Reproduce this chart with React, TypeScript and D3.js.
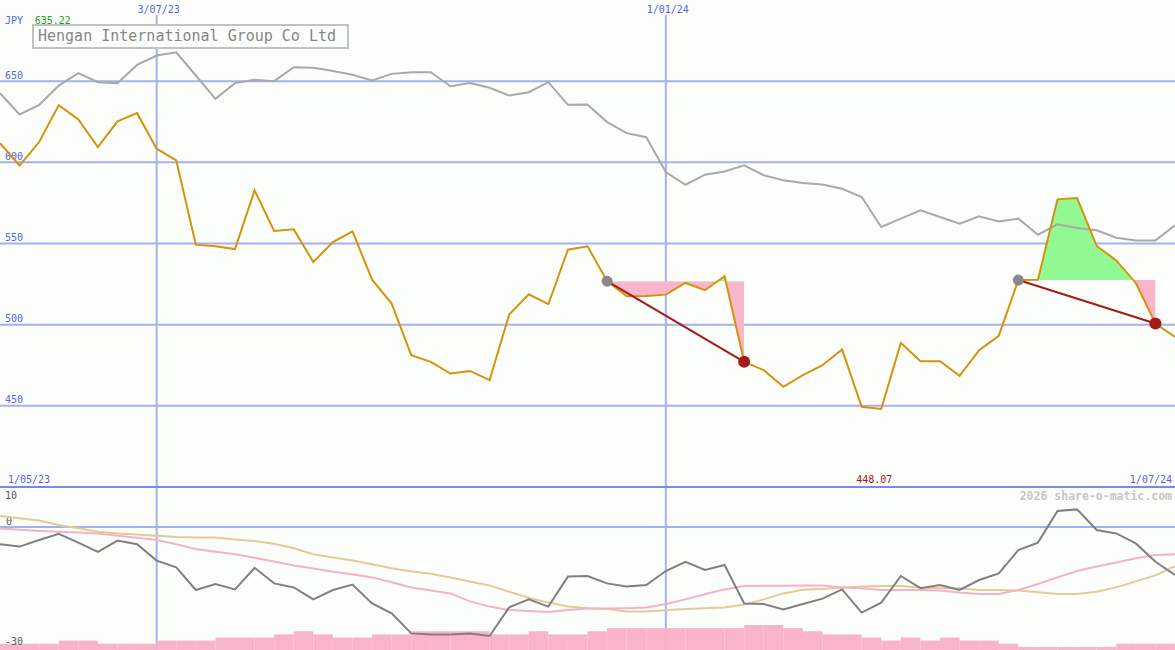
import React from "react";
import * as d3 from "d3";

// ---- data (weekly, starting 8 May 2023) ----
const startDate = new Date(2023, 4, 8);
const endDate = new Date(2024, 6, 1);

const price = [
  611.8, 598.1, 612.5, 635.2, 626.4, 609.4, 625.2, 630.3, 608.4, 601.2,
  549.3, 548.3, 546.6, 582.7, 557.7, 558.7, 538.6, 550.9, 557.5, 527.7,
  513.0, 481.2, 477.1, 469.9, 471.5, 465.8, 506.2, 518.7, 512.6, 546.2,
  548.3, 526.8, 517.5, 517.7, 518.5, 525.7, 521.2, 529.8, 477.1, 472.0,
  461.7, 468.9, 475.0, 484.7, 449.4, 448.1, 488.8, 477.5, 477.5, 468.5,
  484.3, 493.1, 527.5, 527.7, 577.2, 578.0, 548.5, 539.6, 525.7, 500.7,
  492.5,
];

const reference = [
  642.6, 629.5, 635.4, 647.3, 654.9, 649.4, 648.8, 660.0, 665.8, 667.8,
  653.5, 639.1, 648.8, 650.8, 650.0, 658.6, 658.2, 656.2, 653.9, 650.4,
  654.5, 655.5, 655.5, 646.9, 648.8, 645.9, 641.2, 643.2, 649.4, 635.4,
  635.6, 624.8, 618.0, 615.5, 594.0, 586.2, 592.4, 594.4, 598.1, 592.0,
  588.9, 587.2, 586.4, 583.7, 578.6, 560.2, 565.3, 570.4, 566.3, 562.2,
  566.7, 563.6, 565.3, 555.4, 561.8, 559.5, 558.1, 553.6, 551.9, 551.9,
  561.2,
];

const oscillator = [
  -4.3, -4.9, -3.25, -1.7, -3.9, -6.2, -3.4, -4.3, -8.4, -10.1,
  -15.75, -14.25, -15.6, -10.2, -14.1, -15.1, -18.1, -15.75, -14.4, -19.1,
  -21.6, -26.6, -26.9, -26.9, -26.6, -27.25, -20.1, -18.1, -19.9, -12.4,
  -12.25, -14.1, -14.9, -14.5, -11.0, -8.7, -10.75, -9.5, -19.1, -19.25,
  -20.6, -19.25, -17.9, -15.6, -21.4, -18.9, -12.25, -15.3, -14.5, -15.75,
  -13.25, -11.6, -5.75, -3.9, 4.0, 4.4, -0.75, -1.6, -4.1, -8.7,
  -12.0,
];

const maFast = [
  -0.4, -0.7, -1.0, -1.2, -1.4, -1.6, -2.2, -2.7, -3.25, -4.3,
  -5.5, -6.2, -6.8, -7.7, -8.6, -9.6, -10.4, -11.2, -11.8, -12.6,
  -13.8, -15.1, -15.9, -16.6, -18.6, -19.9, -20.75, -21.0, -21.25, -20.75,
  -20.4, -20.4, -20.3, -20.1, -19.25, -18.1, -16.8, -15.6, -14.75, -14.7,
  -14.7, -14.6, -14.6, -15.1, -15.3, -15.75, -15.75, -15.75, -15.9, -16.4,
  -16.75, -16.75, -15.75, -14.25, -12.6, -11.0, -9.9, -8.9, -7.8, -7.0,
  -6.8,
];

const maSlow = [
  2.75, 2.2, 1.6, 0.5, -0.3, -1.2, -1.6, -1.9, -2.2, -2.5,
  -2.6, -2.6, -3.1, -3.5, -4.2, -5.3, -6.8, -7.6, -8.4, -9.3,
  -10.3, -11.1, -11.7, -12.6, -13.6, -14.6, -16.2, -17.7, -18.9, -19.9,
  -20.3, -20.5, -21.1, -21.1, -20.8, -20.5, -20.3, -20.1, -19.4, -18.1,
  -16.6, -15.7, -15.5, -15.1, -14.9, -14.75, -14.75, -15.1, -15.3, -15.3,
  -15.75, -15.75, -15.9, -16.3, -16.75, -16.75, -16.2, -15.1, -13.6, -12.1,
  -9.8,
];

const volume = [
  2, 2, 2, 3, 3, 2, 2, 2, 3, 3,
  3, 4, 4, 4, 5, 6, 5, 4, 4, 5,
  5, 6, 6, 6, 6, 5, 5, 6, 5, 5,
  6, 7, 7, 7, 7, 7, 7, 7, 8, 8,
  7, 6, 5, 5, 4, 3, 4, 3, 4, 3,
  3, 2, 1, 1, 1, 1, 1, 2, 2, 2,
];

const signalStart = [31, 52];
const signalEnd = [38, 59];

const priceTicks = [650, 600, 550, 500, 450];
const oscTicks = [10, 0, -30];
const dateLines = [new Date(2023, 6, 3), new Date(2024, 0, 1)];
const title = "Hengan International Group Co Ltd";
const currency = "JPY";
const highLabel = "635.22";
const lowLabel = "448.07";
const leftDateLabel = "1/05/23";
const rightDateLabel = "1/07/24";
const watermark = "2026 share-o-matic.com";

// ---- layout ----
const W = 1175;
const H = 650;
const mainBottom = 487;
const FONT = "'DejaVu Sans Mono', monospace";
const BLUE = "#5562ee";
const GRID = "#a3b1f2";

export default function App() {
  const dates = price.map((_, i) => d3.timeDay.offset(startDate, 7 * i));
  const x = d3.scaleTime().domain([startDate, endDate]).range([0, W]);
  const y = d3.scaleLinear().domain([400, 700]).range([mainBottom, 0]);
  const yo = d3.scaleLinear().domain([-30, 10]).range([647, 487]);
  const yv = d3.scaleLinear().domain([0, 8]).range([H, 625]);

  const line = (vals: number[], sc: d3.ScaleLinear<number, number>) =>
    d3
      .line<number>()
      .x((_, i) => x(dates[i]))
      .y((v) => sc(v))(vals) || "";

  const fmt = d3.timeFormat("%-d/%m/%y");
  const hiIdx = d3.maxIndex(price);
  const loIdx = d3.minIndex(price);

  return (
    <div style={{ position: "absolute", left: 0, top: 0 }}>
      <svg width={W} height={H} style={{ display: "block", background: "#fcfefc" }}>
        <defs>
          {signalStart.map((s, k) => {
            const e = signalEnd[k];
            const yl = y(price[s]);
            return (
              <React.Fragment key={k}>
                <clipPath id={`up${k}`}>
                  <rect x={x(dates[s])} y={0} width={x(dates[e]) - x(dates[s])} height={yl} />
                </clipPath>
                <clipPath id={`dn${k}`}>
                  <rect x={x(dates[s])} y={yl} width={x(dates[e]) - x(dates[s])} height={mainBottom - yl} />
                </clipPath>
              </React.Fragment>
            );
          })}
        </defs>

        {/* horizontal grid */}
        {priceTicks.map((t) => (
          <line key={t} x1={0} x2={W} y1={y(t)} y2={y(t)} stroke={GRID} strokeWidth={2} />
        ))}
        <line x1={0} x2={W} y1={yo(0)} y2={yo(0)} stroke={GRID} strokeWidth={2} />

        {/* vertical date lines */}
        {dateLines.map((d, i) => (
          <g key={i}>
            <line x1={x(d)} x2={x(d)} y1={15} y2={H} stroke={GRID} strokeWidth={2} />
            <text x={x(d) + 2} y={13} fontFamily={FONT} fontSize={10} fill={BLUE} textAnchor="middle">
              {fmt(d)}
            </text>
          </g>
        ))}

        {/* separator */}
        <line x1={0} x2={W} y1={mainBottom} y2={mainBottom} stroke="#7a88ee" strokeWidth={2} />

        {/* price tick labels */}
        {priceTicks.map((t) => (
          <text key={t} x={5} y={y(t) - 2.5} fontFamily={FONT} fontSize={10} fill={BLUE}>
            {t}
          </text>
        ))}

        {/* signal fills */}
        {signalStart.map((s, k) => {
          const e = signalEnd[k];
          const idx = d3.range(s, e + 1);
          const area =
            d3
              .area<number>()
              .x((i) => x(dates[i]))
              .y0(y(price[s]))
              .y1((i) => y(price[i]))(idx) || "";
          return (
            <g key={k}>
              <path d={area} fill="#f9b5c9" clipPath={`url(#dn${k})`} />
              <path d={area} fill="#93f993" clipPath={`url(#up${k})`} />
            </g>
          );
        })}

        {/* reference & price lines */}
        <path d={line(reference, y)} fill="none" stroke="#a9a9a9" strokeWidth={2} />
        <path d={line(price, y)} fill="none" stroke="#d7920b" strokeWidth={2} />

        {/* signal lines & markers */}
        {signalStart.map((s, k) => {
          const e = signalEnd[k];
          return (
            <g key={k}>
              <line
                x1={x(dates[s])}
                y1={y(price[s])}
                x2={x(dates[e])}
                y2={y(price[e])}
                stroke="#a01c1c"
                strokeWidth={2}
              />
              <circle cx={x(dates[s])} cy={y(price[s])} r={5.5} fill="#888888" />
              <circle cx={x(dates[e])} cy={y(price[e])} r={6} fill="#a31a1a" />
            </g>
          );
        })}

        {/* title box */}
        <rect x={33} y={25} width={315} height={23} fill="#fcfefc" stroke="#c2c2c2" strokeWidth={2} />
        <text x={38} y={41} fontFamily={FONT} fontSize={15} fill="#868686">
          {title}
        </text>

        <text x={5} y={24} fontFamily={FONT} fontSize={10} fill={BLUE}>
          {currency}
        </text>
        <text x={x(dates[hiIdx]) - 6} y={24} fontFamily={FONT} fontSize={10} fill="#22a022" textAnchor="middle">
          {highLabel}
        </text>

        <text x={8} y={483} fontFamily={FONT} fontSize={10} fill={BLUE}>
          {leftDateLabel}
        </text>
        <text x={1172} y={483} fontFamily={FONT} fontSize={10} fill={BLUE} textAnchor="end">
          {rightDateLabel}
        </text>
        <text x={x(dates[loIdx]) - 7} y={483} fontFamily={FONT} fontSize={10} fill="#a01818" textAnchor="middle">
          {lowLabel}
        </text>

        {/* lower panel */}
        {volume.map((v, i) => (
          <rect
            key={i}
            x={x(dates[i])}
            y={yv(v)}
            width={x(dates[i + 1]) - x(dates[i])}
            height={H - yv(v)}
            fill="#f9b4c9"
          />
        ))}

        <text x={1172} y={500} fontFamily={FONT} fontSize={11.5} fontWeight="bold" fill="#c6c6c6" textAnchor="end">
          {watermark}
        </text>
        {oscTicks.map((t) => (
          <text
            key={t}
            x={t === 0 ? 6 : 5}
            y={Math.max(yo(t) - 2, 499)}
            fontFamily={FONT}
            fontSize={10}
            fill="#5a5a5a"
          >
            {t}
          </text>
        ))}

        <path d={line(maSlow, yo)} fill="none" stroke="#e3cb98" strokeWidth={2} />
        <path d={line(maFast, yo)} fill="none" stroke="#f8b0c6" strokeWidth={2} />
        <path d={line(oscillator, yo)} fill="none" stroke="#808080" strokeWidth={2} />
      </svg>
    </div>
  );
}
